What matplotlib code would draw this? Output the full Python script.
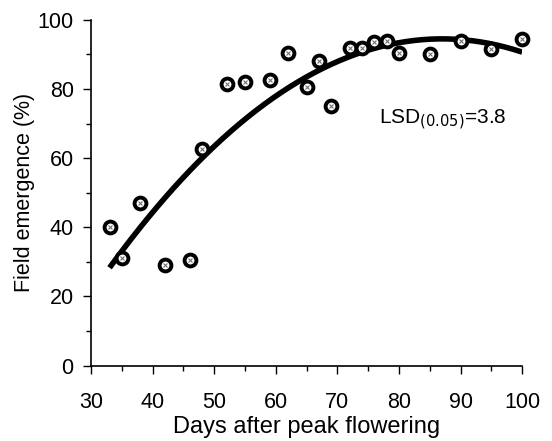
import numpy as np
import matplotlib.pyplot as plt
from matplotlib.ticker import MultipleLocator

plt.rcParams['font.family'] = ['Liberation Sans', 'DejaVu Sans']

# days after peak flowering and field emergence (%)
days = [33, 35, 38, 42, 46, 48, 52, 55, 59, 62, 65, 67, 69, 72, 74, 76, 78, 80, 85, 90, 95, 100]
emergence = [40, 31, 47, 29, 30.5, 62.5, 81.5, 82, 82.5, 90.5, 80.5, 88, 75, 92, 92, 93.5, 94, 90.5, 90, 94, 91.5, 94.5]

# quadratic fit, vertex form y = a*(x - x0)^2 + y0
fit_a = -0.0227
fit_x0 = 87
fit_y0 = 94.5
fit_range = (33, 100)

fig = plt.figure(figsize=(5.52, 4.41), dpi=100)
ax = fig.add_axes([0.165, 0.171, 0.781, 0.784])

xs = np.linspace(fit_range[0], fit_range[1], 200)
ax.plot(xs, fit_a * (xs - fit_x0) ** 2 + fit_y0, color='black', lw=4, solid_capstyle='butt', zorder=2)

ax.plot(days, emergence, 'o', ms=8.5, mfc='white', mec='black', mew=2.8, zorder=3, clip_on=False)
ax.plot(days, emergence, 'x', ms=2.5, color='0.45', mew=0.8, zorder=4, clip_on=False)

ax.text(76.7, 71, 'LSD$_{(0.05)}$=3.8', fontsize=15, va='center', ha='left')

ax.set_xlim(30, 100)
ax.set_ylim(0, 100)
ax.xaxis.set_major_locator(MultipleLocator(10))
ax.xaxis.set_minor_locator(MultipleLocator(5))
ax.yaxis.set_major_locator(MultipleLocator(20))
ax.yaxis.set_minor_locator(MultipleLocator(10))
ax.tick_params(which='major', direction='out', length=6, width=1, labelsize=15.5)
ax.tick_params(axis='y', which='major', pad=6.5)
ax.tick_params(axis='x', which='major', pad=13)
ax.tick_params(which='minor', direction='out', length=3.5, width=1)

for side in ['top', 'right']:
    ax.spines[side].set_visible(False)
for side in ['left', 'bottom']:
    ax.spines[side].set_linewidth(1.2)

ax.set_xlabel('Days after peak flowering', fontsize=17, labelpad=2)
ax.set_ylabel('Field emergence (%)', fontsize=15.5, labelpad=2)

fig.savefig('out.png', dpi=100)
